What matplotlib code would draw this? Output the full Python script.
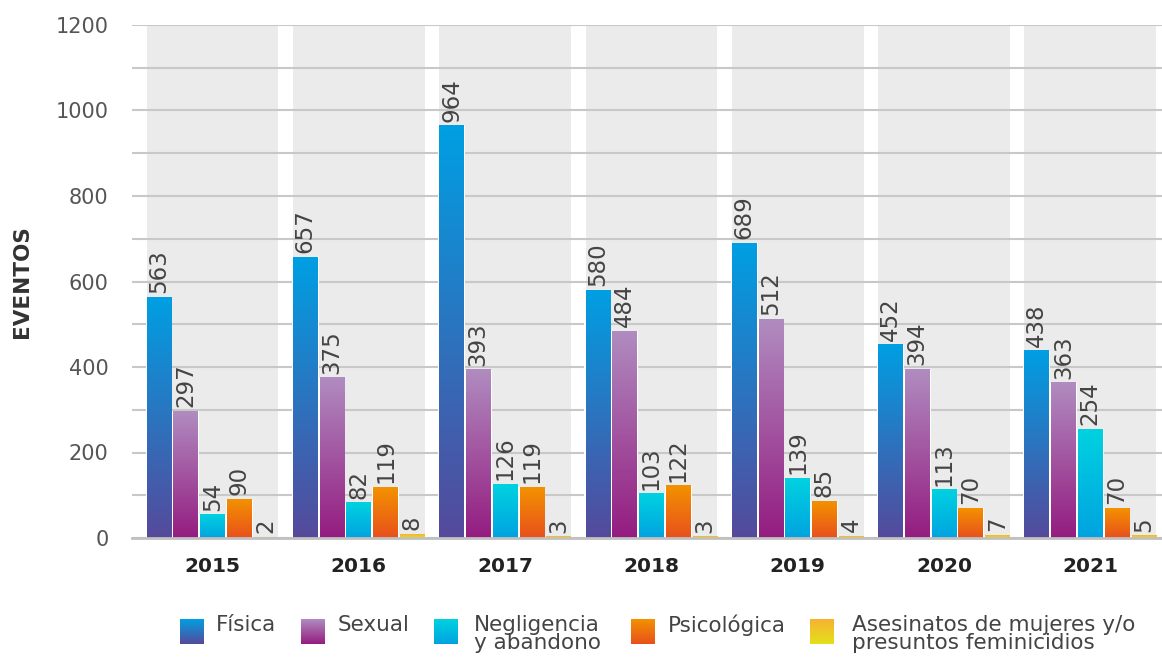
import matplotlib.pyplot as plt
import numpy as np
from matplotlib.colors import LinearSegmentedColormap

# datos
years = ['2015', '2016', '2017', '2018', '2019', '2020', '2021']
series = ['Física', 'Sexual', 'Negligencia\ny abandono', 'Psicológica',
          'Asesinatos de mujeres y/o\npresuntos feminicidios']
fisica = [563, 657, 964, 580, 689, 452, 438]
sexual = [297, 375, 393, 484, 512, 394, 363]
negligencia = [54, 82, 126, 103, 139, 113, 254]
psicologica = [90, 119, 119, 122, 85, 70, 70]
asesinatos = [2, 8, 3, 3, 4, 7, 5]
values = [fisica, sexual, negligencia, psicologica, asesinatos]

# degradados (abajo, arriba)
grads = [('#56499b', '#009fe3'),
         ('#941c80', '#b08cc0'),
         ('#00a3e0', '#00d2e0'),
         ('#e8501c', '#f39200'),
         ('#e3e01a', '#f7b232')]
cmaps = [LinearSegmentedColormap.from_list('g%d' % i, c) for i, c in enumerate(grads)]
grad_img = np.linspace(0, 1, 256).reshape(-1, 1)

plt.rcParams['font.family'] = 'DejaVu Sans'
dpi = 100
fig = plt.figure(figsize=(1162 / dpi, 659 / dpi), dpi=dpi)
ax = fig.add_axes([132 / 1162, 1 - 538 / 659, 1 - 132 / 1162, (538 - 25) / 659])

pitch = 0.183
bw = 0.168
xs = np.arange(len(years))

for x in xs:
    ax.axvspan(x - 0.45, x + 0.45, color='#ebebeb', zorder=0, lw=0)
for g in range(0, 1201, 100):
    ax.axhline(g, color='#c8c8c8', lw=1.5, zorder=1)

for i, vals in enumerate(values):
    for x, v in zip(xs, vals):
        xc = x + (i - 2) * pitch
        ax.bar(xc, v, width=pitch, color='white', lw=0, zorder=2)
        ax.imshow(grad_img, extent=[xc - bw / 2, xc + bw / 2, 0, v], origin='lower',
                  cmap=cmaps[i], aspect='auto', zorder=3, interpolation='bilinear')
        ax.annotate(str(v), (xc, v), xytext=(0, 3), textcoords='offset points',
                    rotation=90, ha='center', va='bottom', fontsize=16.5,
                    color='#444444', zorder=4)

ax.set_xlim(-0.55, 6.49)
ax.set_ylim(0, 1200)
ax.set_yticks(range(0, 1201, 200))
ax.set_xticks(xs)
ax.set_xticklabels(years, fontsize=14.5, fontweight='bold', color='#222222')
ax.tick_params(axis='y', length=0, pad=17, labelsize=15, labelcolor='#555555')
ax.tick_params(axis='x', length=0, pad=14)
for s in ['top', 'right', 'left']:
    ax.spines[s].set_visible(False)
ax.spines['bottom'].set_color('#c0c0c0')
ax.spines['bottom'].set_linewidth(2)
ax.spines['bottom'].set_zorder(5)
ax.set_ylabel('EVENTOS', fontsize=15.5, fontweight='bold', color='#333333')
ax.yaxis.set_label_coords(-100 / 1030, 0.5)

# leyenda
lax = fig.add_axes([0, 0, 1, 1])
lax.axis('off')
sq_x = [180, 301, 434, 631, 810]
tx_x = [216, 338, 474, 668, 852]
for i in range(len(series)):
    lax.imshow(grad_img, extent=[sq_x[i], sq_x[i] + 24, 644, 619], origin='lower',
               cmap=cmaps[i], aspect='auto', interpolation='bilinear')
    lax.text(tx_x[i], 615, series[i], fontsize=15.5, color='#444444', va='top',
             ha='left', linespacing=0.9)
lax.set_xlim(0, 1162)
lax.set_ylim(659, 0)

fig.savefig('out.png', dpi=dpi)
